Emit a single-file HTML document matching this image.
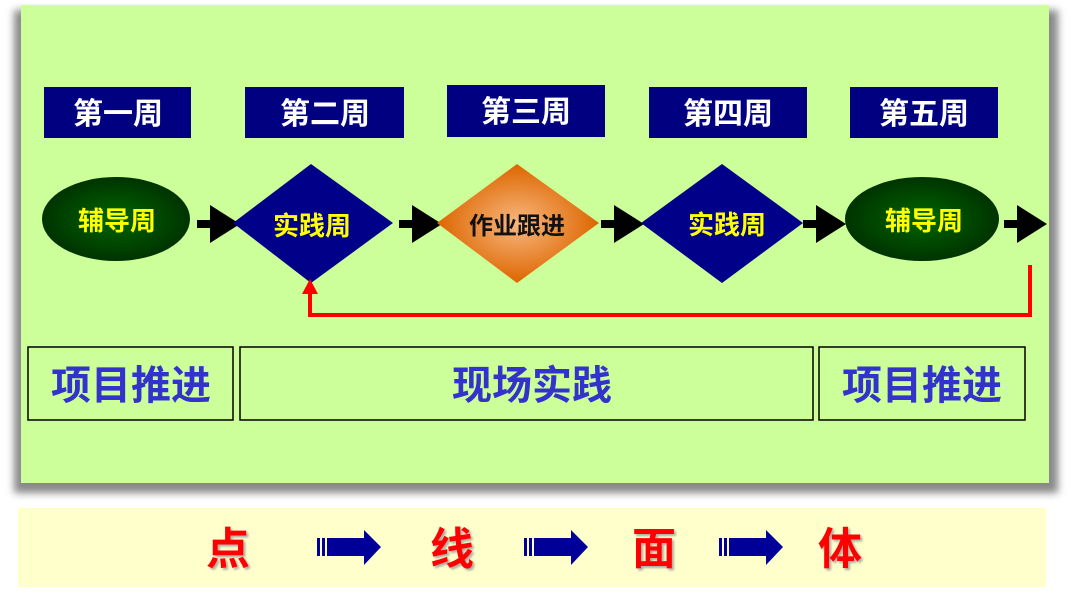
<!DOCTYPE html>
<html><head><meta charset="utf-8"><style>
html,body{margin:0;padding:0;background:#fff;}
svg{display:block;}
text{font-family:"Liberation Sans","Noto Sans CJK SC",sans-serif;font-weight:bold;}
</style></head><body>
<svg width="1077" height="603" viewBox="0 0 1077 603" xmlns="http://www.w3.org/2000/svg">
<defs>
<radialGradient id="gE" cx="50%" cy="50%" r="50%"><stop offset="0" stop-color="#006600"/><stop offset="1" stop-color="#003300"/></radialGradient>
<radialGradient id="gO" cx="50%" cy="50%" r="50%"><stop offset="0" stop-color="#f8b880"/><stop offset="1" stop-color="#dd6600"/></radialGradient>
<filter id="sh" x="-5%" y="-5%" width="110%" height="115%"><feGaussianBlur stdDeviation="4"/></filter>
<filter id="ts"><feDropShadow dx="2" dy="2" stdDeviation="1" flood-color="#999" flood-opacity="0.8"/></filter>
</defs>
<rect x="14" y="10" width="1044" height="483" fill="#888" filter="url(#sh)"/>
<rect x="21" y="5" width="1028" height="478" fill="#ccff99"/>
<g fill="#000080">
<rect x="44" y="87" width="147" height="51"/>
<rect x="245" y="87" width="159" height="51"/>
<rect x="447" y="85" width="158" height="52"/>
<rect x="649" y="87" width="158" height="51"/>
<rect x="850" y="87" width="148" height="51"/>
</g>
<g fill="#fff" font-size="30" text-anchor="middle">
<text x="118" y="124">第一周</text>
<text x="325" y="124">第二周</text>
<text x="526" y="122">第三周</text>
<text x="728" y="124">第四周</text>
<text x="924" y="124">第五周</text>
</g>
<g fill="#000">
<path d="M197 220h13v-15l30 19-30 19v-15h-13z"/>
<path d="M399 220h13v-15l30 19-30 19v-15h-13z"/>
<path d="M601 220h13v-15l30 19-30 19v-15h-13z"/>
<path d="M803 220h13v-15l30 19-30 19v-15h-13z"/>
<path d="M1004 220h13v-15l30 19-30 19v-15h-13z"/>
</g>
<ellipse cx="116" cy="219" rx="74" ry="42" fill="url(#gE)"/>
<polygon points="311,164 393,223 311,283 233,223" fill="#000088"/>
<polygon points="517,164 599,223 517,283 437,223" fill="url(#gO)"/>
<polygon points="722,164 803,223 722,283 641,223" fill="#000088"/>
<ellipse cx="922" cy="219" rx="77" ry="42" fill="url(#gE)"/>
<g fill="#ffff00" font-size="26" text-anchor="middle">
<text x="117" y="230">辅导周</text>
<text x="312" y="235">实践周</text>
<text x="727" y="234">实践周</text>
<text x="924" y="230">辅导周</text>
</g>
<text x="517" y="234" font-size="24" text-anchor="middle" fill="#111">作业跟进</text>
<path d="M1030 265V315H310V292" fill="none" stroke="#ff0000" stroke-width="4"/>
<polygon points="310,279 302,294 318,294" fill="#ff0000"/>
<g fill="none" stroke="#000" stroke-width="1.5">
<rect x="28" y="347" width="205" height="73"/>
<rect x="240" y="347" width="573" height="73"/>
<rect x="819" y="347" width="206" height="73"/>
</g>
<g fill="#3333cc" font-size="40" text-anchor="middle">
<text x="131" y="399">项目推进</text>
<text x="532" y="399">现场实践</text>
<text x="922" y="399">项目推进</text>
</g>
<rect x="18" y="508" width="1028" height="79" fill="#ffffcc"/>
<g fill="#ff0000" font-size="44" text-anchor="middle" filter="url(#ts)">
<text x="228" y="564">点</text>
<text x="452" y="564">线</text>
<text x="654" y="564">面</text>
<text x="840" y="564">体</text>
</g>
<g fill="#000099">
<g transform="translate(317,530)"><rect x="0" y="8" width="3" height="18"/><rect x="5" y="8" width="3" height="18"/><path d="M10 8h37v-8l17 17-17 18v-9h-37z"/></g>
<g transform="translate(524,530)"><rect x="0" y="8" width="3" height="18"/><rect x="5" y="8" width="3" height="18"/><path d="M10 8h37v-8l17 17-17 18v-9h-37z"/></g>
<g transform="translate(719,530)"><rect x="0" y="8" width="3" height="18"/><rect x="5" y="8" width="3" height="18"/><path d="M10 8h37v-8l17 17-17 18v-9h-37z"/></g>
</g>
</svg>
</body></html>
